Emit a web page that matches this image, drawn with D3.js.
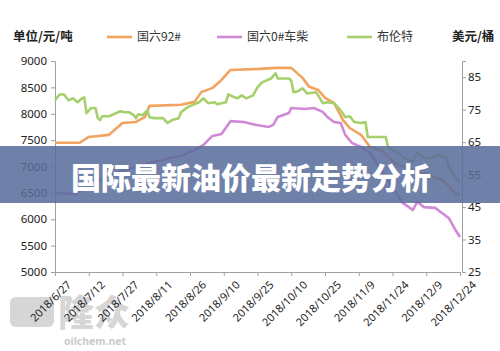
<!DOCTYPE html>
<html>
<head>
<meta charset="utf-8">
<script src="https://cdn.jsdelivr.net/npm/d3@7/dist/d3.min.js"></script>
<style>
  body { margin: 0; background: #fff; }
  text { font-family: "Noto Sans", "Noto Sans CJK SC", sans-serif; }
</style>
</head>
<body>
<div id="chart"></div>
<script>
// 数据
const gasDates = ['2018/6/27','2018/7/8','2018/7/12','2018/7/21','2018/7/27','2018/8/2','2018/8/6','2018/8/8','2018/8/22','2018/8/28','2018/8/31','2018/9/5','2018/9/9','2018/9/13','2018/9/26','2018/10/3','2018/10/10','2018/10/15','2018/10/18','2018/10/22','2018/10/25','2018/10/29','2018/11/2','2018/11/5','2018/11/10','2018/11/14','2018/11/19','2018/11/25','2018/12/3','2018/12/10','2018/12/16','2018/12/19','2018/12/22','2018/12/24'];
const gasValues = [7450,7450,7560,7600,7825,7845,7940,8150,8170,8225,8410,8490,8640,8830,8850,8870,8870,8680,8510,8450,8300,8205,7880,7730,7600,7370,7310,7067,6934,6840,6745,6630,6480,6480];

const dieselDates = ['2018/6/27','2018/7/6','2018/7/10','2018/7/17','2018/7/26','2018/8/4','2018/8/13','2018/8/23','2018/8/28','2018/9/1','2018/9/5','2018/9/9','2018/9/13','2018/9/19','2018/9/24','2018/9/30','2018/10/2','2018/10/4','2018/10/9','2018/10/10','2018/10/16','2018/10/20','2018/10/24','2018/10/26','2018/10/29','2018/11/1','2018/11/3','2018/11/6','2018/11/10','2018/11/14','2018/11/19','2018/11/25','2018/11/28','2018/12/3','2018/12/5','2018/12/8','2018/12/13','2018/12/16','2018/12/19','2018/12/22','2018/12/24'];
const dieselValues = [6500,6480,6590,6745,6900,7030,7120,7220,7310,7410,7580,7615,7860,7845,7790,7750,7790,7940,8015,8110,8090,8110,8035,7940,7845,7825,7600,7445,7370,7255,6935,6555,6330,6175,6330,6230,6215,6120,6025,5795,5665];

const brentDates = ['2018/6/27','2018/6/29','2018/7/1','2018/7/3','2018/7/5','2018/7/7','2018/7/9','2018/7/10','2018/7/11','2018/7/13','2018/7/15','2018/7/16','2018/7/17','2018/7/18','2018/7/21','2018/7/26','2018/7/28','2018/7/30','2018/8/1','2018/8/2','2018/8/3','2018/8/5','2018/8/7','2018/8/8','2018/8/10','2018/8/14','2018/8/16','2018/8/18','2018/8/21','2018/8/22','2018/8/25','2018/8/27','2018/8/30','2018/9/1','2018/9/3','2018/9/6','2018/9/7','2018/9/11','2018/9/12','2018/9/16','2018/9/18','2018/9/20','2018/9/23','2018/9/25','2018/9/27','2018/10/1','2018/10/3','2018/10/4','2018/10/9','2018/10/10','2018/10/11','2018/10/13','2018/10/15','2018/10/17','2018/10/21','2018/10/22','2018/10/24','2018/10/26','2018/10/29','2018/11/1','2018/11/3','2018/11/5','2018/11/7','2018/11/10','2018/11/12','2018/11/13','2018/11/21','2018/11/22','2018/11/24','2018/11/26','2018/11/29','2018/12/3','2018/12/5','2018/12/8','2018/12/12','2018/12/14','2018/12/18','2018/12/19','2018/12/21','2018/12/24'];
const brentValues = [77.9,79.7,79.7,77.9,78.5,77.3,78.5,78.8,73.9,75.5,75.5,72.4,71.8,73.0,73.0,74.5,74.2,74.2,73.3,72.4,73.6,73.3,74.8,72.7,72.4,72.4,70.9,71.8,72.4,74.2,75.8,76.4,77.3,78.5,77.0,77.3,76.7,77.3,79.7,78.5,79.4,78.5,79.4,81.9,83.4,84.6,86.2,84.6,84.6,84.0,80.4,80.7,81.6,80.0,80.4,79.4,77.0,77.3,77.0,74.8,72.7,73.0,71.2,70.9,71.2,66.6,66.6,63.5,62.6,62.0,60.2,59.0,61.7,60.2,60.2,61.1,60.2,57.4,55.0,52.5];

const xTickLabels = ['2018/6/27','2018/7/12','2018/7/27','2018/8/11','2018/8/26','2018/9/10','2018/9/25','2018/10/10','2018/10/25','2018/11/9','2018/11/24','2018/12/9','2018/12/24'];
const leftTicks = [5000,5500,6000,6500,7000,7500,8000,8500,9000];
const rightTicks = [25,35,45,55,65,75,85];
const seriesNames = ['国六92#','国六0#车柴','布伦特'];
const seriesColors = ['#f2a35e','#cf8ad6','#a5d06c'];
const title = '国际最新油价最新走势分析';

const width = 500, height = 351;
const parse = d3.timeParse('%Y/%m/%d');

let svg = d3.select('#chart').append('svg')
  .attr('width', width).attr('height', height);

const xScale = d3.scaleTime()
  .domain([parse(xTickLabels[0]), parse(xTickLabels[xTickLabels.length - 1])])
  .range([55, 460]);
const yLeft = d3.scaleLinear().domain([5000, 9000]).range([272, 61]);
const yRight = d3.scaleLinear().domain([25, 90]).range([272, 61]);

// 水印
const wm = svg.append('g').attr('fill', '#d6d6d6');
wm.append('rect').attr('x', 10).attr('y', 297).attr('width', 44).attr('height', 30).attr('rx', 6);
wm.append('text').attr('x', 58).attr('y', 326).attr('font-size', 36).attr('font-weight', 900)
  .style('font-family', '"Noto Sans CJK SC"').text('隆众');
wm.append('text').attr('x', 64).attr('y', 345).attr('font-size', 10.5).attr('font-weight', 'bold')
  .attr('fill', '#cacaca').text('oilchem.net');

// 坐标轴
const xAxis = d3.axisBottom(xScale)
  .tickValues(xTickLabels.map(parse))
  .tickSize(4)
  .tickFormat(d3.timeFormat('%Y/%-m/%-d'));
const gx = svg.append('g').attr('transform', 'translate(0,272)').call(xAxis);
gx.selectAll('text')
  .attr('font-size', 11).attr('fill', '#222')
  .attr('text-anchor', 'end')
  .attr('transform', 'translate(6,0) rotate(-45)')
  .attr('dy', '0.9em').attr('dx', '-0.2em');

const gl = svg.append('g').attr('transform', 'translate(55,0)')
  .call(d3.axisLeft(yLeft).tickValues(leftTicks).tickFormat(d3.format('d')).tickSize(4).tickPadding(4));
gl.selectAll('text').attr('font-size', 11.5).attr('fill', '#222');

const gr = svg.append('g').attr('transform', 'translate(462,0)')
  .call(d3.axisRight(yRight).tickValues(rightTicks).tickSize(4).tickPadding(2));
gr.selectAll('text').attr('font-size', 11.5).attr('fill', '#222');

svg.selectAll('.domain').attr('stroke', '#a0a0a0');
svg.selectAll('.tick line').attr('stroke', '#a0a0a0');

// 折线
const series = [
  { dates: gasDates, values: gasValues, y: yLeft },
  { dates: dieselDates, values: dieselValues, y: yLeft },
  { dates: brentDates, values: brentValues, y: yRight }
];
series.forEach((s, i) => {
  const pts = s.dates.map((d, j) => ({ x: parse(d), y: s.values[j] }));
  const line = d3.line().x(d => xScale(d.x)).y(d => s.y(d.y));
  svg.append('path').datum(pts)
    .attr('d', line)
    .attr('fill', 'none')
    .attr('stroke', seriesColors[i])
    .attr('stroke-width', 2.6)
    .attr('stroke-linejoin', 'round');
});

// 图例
svg.append('text').attr('x', 13).attr('y', 41).attr('font-size', 12.5).attr('font-weight', 'bold')
  .attr('fill', '#222').style('font-family', '"Noto Sans CJK SC"').text('单位/元/吨');
svg.append('text').attr('x', 452).attr('y', 41).attr('font-size', 12.5).attr('font-weight', 'bold')
  .attr('fill', '#222').style('font-family', '"Noto Sans CJK SC"').text('美元/桶');
const legendX = [107, 217, 347];
seriesNames.forEach((name, i) => {
  svg.append('line').attr('x1', legendX[i]).attr('x2', legendX[i] + 25)
    .attr('y1', 37).attr('y2', 37)
    .attr('stroke', seriesColors[i]).attr('stroke-width', 2.6);
  svg.append('text').attr('x', legendX[i] + 30).attr('y', 41)
    .attr('font-size', 12).attr('fill', '#333')
    .style('font-family', '"Noto Sans CJK SC"').text(name);
});

// 标题横幅
svg.append('rect').attr('x', 0).attr('y', 146).attr('width', width).attr('height', 57)
  .attr('fill', 'rgba(88,108,155,0.86)');
svg.append('text').attr('x', 251).attr('y', 189)
  .attr('text-anchor', 'middle')
  .attr('font-size', 30).attr('font-weight', 900)
  .attr('fill', '#fff')
  .style('font-family', '"Noto Sans CJK SC"')
  .text(title);
</script>
</body>
</html>
